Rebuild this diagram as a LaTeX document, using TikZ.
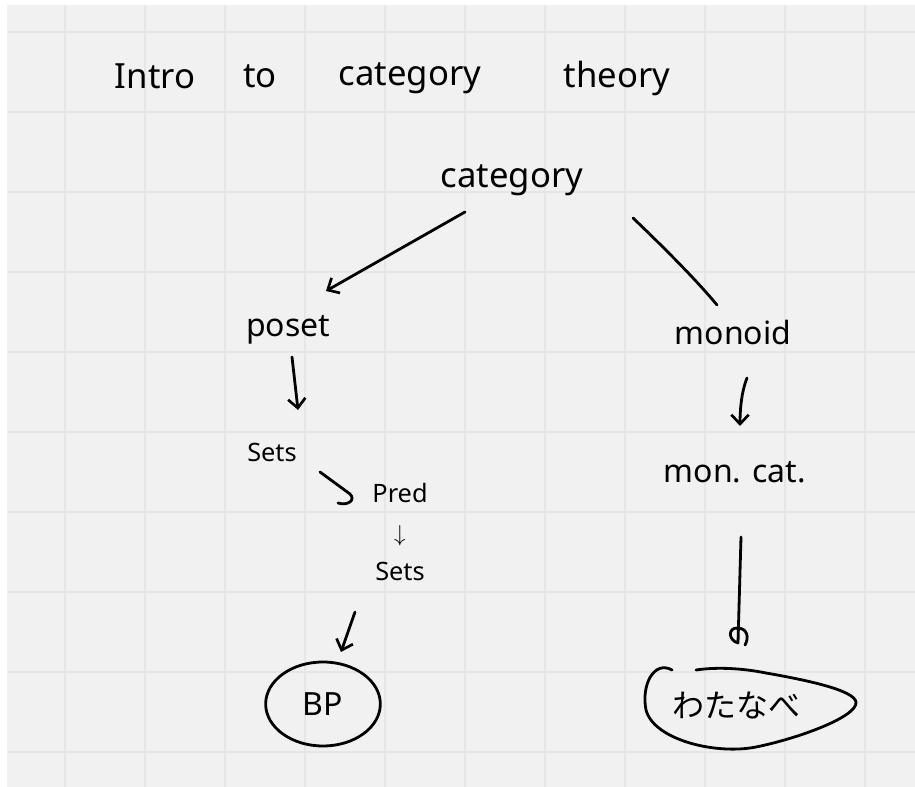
\documentclass[tikz,border=0pt]{standalone}
\usepackage{fontspec}
\setmainfont{Noto Sans}
\newfontfamily\jp{Noto Sans CJK JP}
\usetikzlibrary{arrows.meta,shapes.geometric}
\definecolor{bgc}{HTML}{F1F1F1}
\definecolor{gridc}{HTML}{E6E6E6}
\begin{document}
\begin{tikzpicture}[x=0.75pt,y=-0.75pt,
  ink/.style={line width=2.1pt, black, line cap=round, line join=round},
  arr/.style={ink, -{Straight Barb[length=7pt,width=13pt,line width=2pt]}},
  lbl/.style={inner sep=1pt, font=\fontsize{24}{28}\selectfont},
  big/.style={inner sep=1pt, font=\fontsize{26}{30}\selectfont},
  small/.style={inner sep=1pt, align=center, font=\fontsize{19}{29}\selectfont}]
\useasboundingbox (0,0) rectangle (915,787);
\fill[white] (0,0) rectangle (915,787);
\fill[bgc] (7,5) rectangle (915,787);
\foreach \x in {65,145,...,865} \draw[gridc, line width=0.8pt] (\x,5) -- (\x,787);
\foreach \y in {32,112,...,752} \draw[gridc, line width=0.8pt] (7,\y) -- (915,\y);

% title
\node[big] (t1) at (155,76) {Intro};
\node[big] (t2) at (260,76) {to};
\node[big] (t3) at (410,78) {category};
\node[big] (t4) at (617,78) {theory};

% nodes
\node[big] (category) at (512,180) {category};
\node[lbl] (poset) at (288,330) {poset};
\node[lbl] (monoid) at (733,333) {monoid};
\node[small] (sets) at (272,452) {Sets};
\node[small] (pred) at (400,532) {Pred\\$\downarrow$\\Sets};
\node[lbl] (moncat) at (735,472) {mon. cat.};
\node[lbl, draw, ellipse, line width=2.1pt, minimum width=86pt, minimum height=63pt, inner sep=0pt] (bp) at (323,704) {BP};
\node[inner sep=1pt, font=\jp\fontsize{24}{28}\selectfont] (watanabe) at (736,705) {わたなべ};

% connectors
\draw[arr] ([shift={(-47,32)}]category.center) -- ([shift={(38,-39)}]poset.center);
\draw[ink] ([shift={(121,38)}]category.center) .. controls ([shift={(165,80)}]category.center) and ([shift={(-30,-45)}]monoid.center) .. ([shift={(-16,-28)}]monoid.center);
\draw[arr] ([shift={(4,27)}]poset.center) -- ([shift={(26,-42)}]sets.center);
\draw[ink] ([shift={(48,20)}]sets.center) -- ([shift={(-50,-38)}]pred.center) .. controls ([shift={(-44,-32)}]pred.center) and ([shift={(-52,-26)}]pred.center) .. ([shift={(-62,-29)}]pred.center);
\draw[arr] ([shift={(-45,80)}]pred.center) -- ([shift={(18,-52)}]bp.center);
\draw[arr] ([shift={(14,45)}]monoid.center) .. controls ([shift={(8,60)}]monoid.center) and ([shift={(5,-60)}]moncat.center) .. ([shift={(5,-46)}]moncat.center);
\draw[ink] ([shift={(6,65)}]moncat.center) -- ([shift={(2,-62)}]watanabe.center) .. controls ([shift={(-8,-65)}]watanabe.center) and ([shift={(-8,-77)}]watanabe.center) .. ([shift={(1,-77)}]watanabe.center) .. controls ([shift={(12,-77)}]watanabe.center) and ([shift={(13,-67)}]watanabe.center) .. ([shift={(9,-60)}]watanabe.center);

% teardrop outline round watanabe
\begin{scope}[shift={(watanabe.center)}]
\draw[ink] (-64,-35) .. controls (-82,-45) and (-95,-20) .. (-90,5)
  .. controls (-82,35) and (-20,50) .. (20,42)
  .. controls (60,34) and (122,12) .. (120,-3)
  .. controls (118,-15) and (70,-25) .. (30,-32)
  .. controls (5,-37) and (-20,-38) .. (-40,-35);
\end{scope}
\end{tikzpicture}
\end{document}
